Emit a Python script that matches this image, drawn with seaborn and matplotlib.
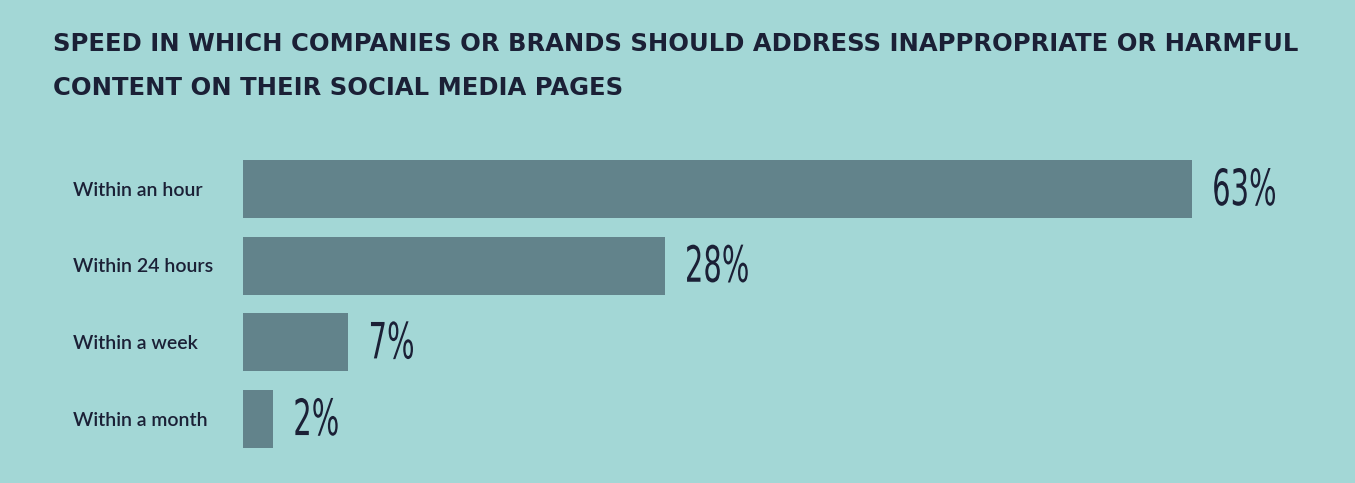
import matplotlib
matplotlib.use("Agg")
import matplotlib.pyplot as plt
import seaborn as sns
import pandas as pd
from matplotlib.patheffects import AbstractPathEffect
from matplotlib.transforms import Affine2D

categories = ["Within an hour", "Within 24 hours", "Within a week", "Within a month"]
values = [63, 28, 7, 2]
value_labels = ["63%", "28%", "7%", "2%"]
title_lines = ["SPEED IN WHICH COMPANIES OR BRANDS SHOULD ADDRESS INAPPROPRIATE OR HARMFUL",
               "CONTENT ON THEIR SOCIAL MEDIA PAGES"]

BG = "#a3d7d6"
BAR = "#62838b"
TXT = "#1b2036"


class Condense(AbstractPathEffect):
    """Horizontally squeeze glyphs to mimic a condensed display face."""
    def __init__(self, sx):
        super().__init__()
        self.sx = sx

    def draw_path(self, renderer, gc, tpath, affine, rgbFace=None):
        renderer.draw_path(gc, tpath, Affine2D().scale(self.sx, 1) + affine, rgbFace)


sns.set_theme(style="white")
plt.rcParams['font.family'] = ['Lato', 'DejaVu Sans']

W, H = 1355, 483
fig = plt.figure(figsize=(W / 100, H / 100), dpi=100, facecolor=BG)
ax = fig.add_axes([243 / W, (H - 457.3) / H, 1 - 243 / W, 306.6 / H])
ax.set_facecolor(BG)

df = pd.DataFrame({"category": categories, "value": values})
sns.barplot(data=df, x="value", y="category", orient="h", color=BAR,
            saturation=1, width=0.755, linewidth=0, edgecolor=BAR, ax=ax)
ax.set_xlim(0, (W - 243) / ((1192 - 243) / 63))
ax.set_ylim(3.5, -0.5)
for s in ax.spines.values():
    s.set_visible(False)
ax.set_xticks([])
ax.set_yticks([])
ax.set_xlabel("")
ax.set_ylabel("")

for i, (v, lab) in enumerate(zip(values, value_labels)):
    ax.annotate(lab, xy=(v, i), xytext=(14.5, -1.5), textcoords="offset points",
                va="center", ha="left", fontsize=36, color=TXT,
                family=["DejaVu Sans"], path_effects=[Condense(0.58)])

for i, c in enumerate(categories):
    fig.text(73 / W, 1 - (190 + i * 76.7) / H, c, ha="left", va="center",
             fontsize=14, color=TXT, fontweight="semibold")

fig.text(53 / W, 1 - 44 / H, title_lines[0], ha="left", va="center",
         fontsize=17.5, color=TXT, family=["DejaVu Sans"], fontweight="bold")
fig.text(53 / W, 1 - 88 / H, title_lines[1], ha="left", va="center",
         fontsize=17.5, color=TXT, family=["DejaVu Sans"], fontweight="bold")

fig.savefig("out.png", dpi=100, facecolor=BG)
